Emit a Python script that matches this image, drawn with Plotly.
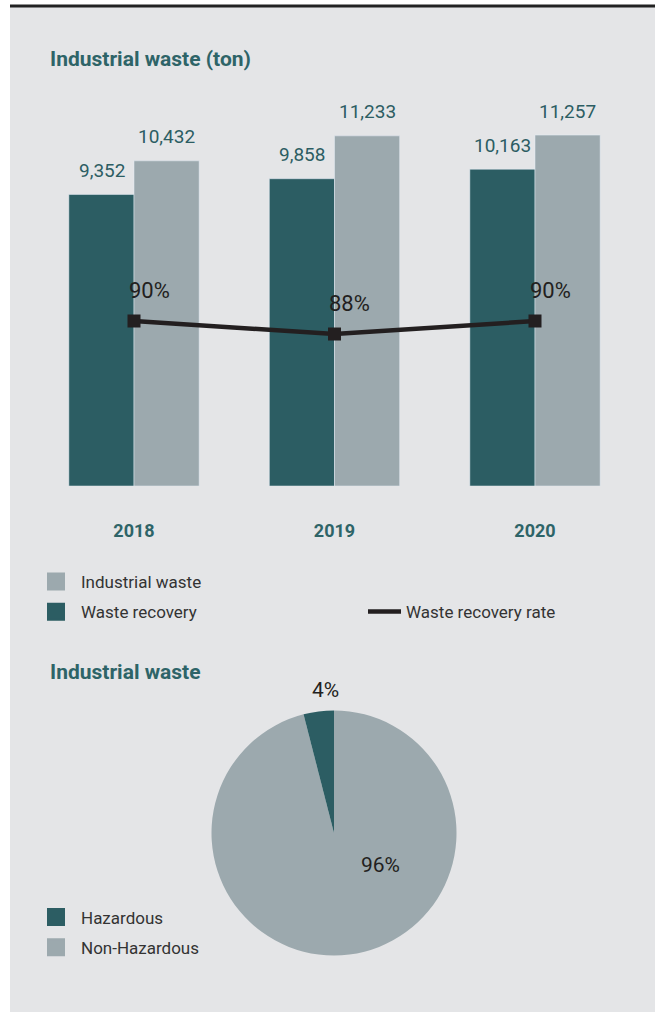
import plotly.graph_objects as go

# ---------------- data ----------------
years = ["2018", "2019", "2020"]
waste_recovery = [9352, 9858, 10163]
industrial_waste = [10432, 11233, 11257]
recovery_rate = [90, 88, 90]

pie_labels = ["Hazardous", "Non-Hazardous"]
pie_values = [4, 96]

# ---------------- styles ----------------
TEAL = "#2c5d63"
GRAY = "#9ca9ae"
BG = "#e4e5e7"
DARK = "#231f20"
TITLE = "#2e6468"
TXT = "#333333"
FONT = "Roboto"
PIE_COLORS = {"Hazardous": TEAL, "Non-Hazardous": GRAY}

W, H = 655, 1012


def px(x):
    return x / W


def py(y):
    return 1 - y / H


fig = go.Figure()

# bars
fig.add_trace(go.Bar(x=years, y=waste_recovery, marker_color=TEAL, name="Waste recovery",
                     showlegend=False, hoverinfo="skip"))
fig.add_trace(go.Bar(x=years, y=industrial_waste, marker_color=GRAY, name="Industrial waste",
                     showlegend=False, hoverinfo="skip"))

# line on secondary axis
fig.add_trace(go.Scatter(x=years, y=recovery_rate, yaxis="y2", mode="lines+markers",
                         line=dict(color=DARK, width=4.5),
                         marker=dict(symbol="square", size=13, color=DARK),
                         showlegend=False, hoverinfo="skip"))

# legend-only traces
sq = dict(symbol="square", size=16)
fig.add_trace(go.Scatter(x=[None], y=[None], mode="markers", name="Industrial waste",
                         marker=dict(**sq, color=GRAY, line=dict(color=GRAY, width=2)),
                         legend="legend", legendgroup="a"))
fig.add_trace(go.Scatter(x=[None], y=[None], mode="markers", name="Waste recovery",
                         marker=dict(**sq, color=TEAL, line=dict(color=TEAL, width=2)),
                         legend="legend", legendgroup="b"))
fig.add_trace(go.Scatter(x=[None], y=[None], mode="lines", name="Waste recovery rate",
                         line=dict(color=DARK, width=4.5), legend="legend2"))
for lab, grp in zip(pie_labels, ["c", "d"]):
    fig.add_trace(go.Scatter(x=[None], y=[None], mode="markers", name=lab,
                             marker=dict(**sq, color=PIE_COLORS[lab], line=dict(color=PIE_COLORS[lab], width=2)),
                             legend="legend3", legendgroup=grp))

# pie (drawn clockwise from 12 o'clock, so the small slice ends up left of the top)
pie_order = pie_labels[::-1]
pie_vals_ordered = pie_values[::-1]
fig.add_trace(go.Pie(labels=pie_order, values=pie_vals_ordered, sort=False,
                     direction="clockwise", rotation=0,
                     marker=dict(colors=[PIE_COLORS[l] for l in pie_order], line=dict(width=0)),
                     textinfo="none", showlegend=False, hoverinfo="skip",
                     domain=dict(x=[px(334 - 122.5), px(334 + 122.5)],
                                 y=[py(955.5), py(710.5)])))

annotations = []
# bar value labels
for i, v in enumerate(waste_recovery):
    annotations.append(dict(x=i, y=v, xref="x", yref="y", text=f"{v:,}", showarrow=False,
                            xshift=-32.5, yshift=24, xanchor="center", yanchor="middle",
                            font=dict(family=FONT, size=19, color=TEAL)))
for i, v in enumerate(industrial_waste):
    annotations.append(dict(x=i, y=v, xref="x", yref="y", text=f"{v:,}", showarrow=False,
                            xshift=32.5, yshift=24, xanchor="center", yanchor="middle",
                            font=dict(family=FONT, size=19, color=TEAL)))
for i, v in enumerate(recovery_rate):
    annotations.append(dict(x=i, y=v, xref="x", yref="y2", text=f"{v}%", showarrow=False,
                            xshift=15, yshift=31, xanchor="center", yanchor="middle",
                            font=dict(family=FONT, size=22, color=DARK)))

# titles
annotations.append(dict(x=px(48), y=py(59), xref="paper", yref="paper", text="<b>Industrial waste (ton)</b>",
                        showarrow=False, xanchor="left", yanchor="middle",
                        font=dict(family=FONT, size=21, color=TITLE)))
annotations.append(dict(x=px(48), y=py(672), xref="paper", yref="paper", text="<b>Industrial waste</b>",
                        showarrow=False, xanchor="left", yanchor="middle",
                        font=dict(family=FONT, size=21, color=TITLE)))

# pie labels
annotations.append(dict(x=px(325), y=py(690), xref="paper", yref="paper", text=f"{pie_values[0]}%",
                        showarrow=False, xanchor="center", yanchor="middle",
                        font=dict(family=FONT, size=21, color=DARK)))
annotations.append(dict(x=px(380), y=py(865), xref="paper", yref="paper", text=f"{pie_values[1]}%",
                        showarrow=False, xanchor="center", yanchor="middle",
                        font=dict(family=FONT, size=21, color=DARK)))

shapes = [
    dict(type="rect", xref="paper", yref="paper", x0=px(10), x1=1, y0=0, y1=py(7),
         fillcolor=BG, line=dict(width=0), layer="below"),
    dict(type="line", xref="paper", yref="paper", x0=px(10), x1=1, y0=py(6), y1=py(6),
         line=dict(color="#222222", width=3), layer="below"),
]

legend_common = dict(bgcolor="rgba(0,0,0,0)", borderwidth=0, xanchor="left", yanchor="top",
                     font=dict(family=FONT, size=17, color=TXT), itemsizing="trace",
                     traceorder="grouped", tracegroupgap=5, orientation="v")

fig.update_layout(
    width=W, height=H,
    margin=dict(l=0, r=0, t=0, b=0),
    paper_bgcolor="white",
    plot_bgcolor="rgba(0,0,0,0)",
    barmode="group", bargap=0.35, bargroupgap=0,
    font=dict(family=FONT, color=TXT),
    xaxis=dict(domain=[px(33.75), px(635.25)], range=[-0.5, 2.5], showgrid=False, zeroline=False,
               showline=False, ticks="", ticklabelstandoff=32, type="category",
               tickfont=dict(family=FONT, size=18, color=TITLE, weight="bold")),
    yaxis=dict(domain=[py(486), py(110)], range=[0, 12063], visible=False, fixedrange=True),
    yaxis2=dict(overlaying="y", range=[64.62, 122.46], visible=False),
    legend=dict(x=px(31), y=py(564), itemwidth=40, **legend_common),
    legend2=dict(x=px(363), y=py(594), itemwidth=33, **legend_common),
    legend3=dict(x=px(31), y=py(899.5), itemwidth=40, **legend_common),
    annotations=annotations,
    shapes=shapes,
    hovermode=False,
)

fig.write_html("out.html", config={"displayModeBar": False},
               post_script="document.body.style.margin='0';")
